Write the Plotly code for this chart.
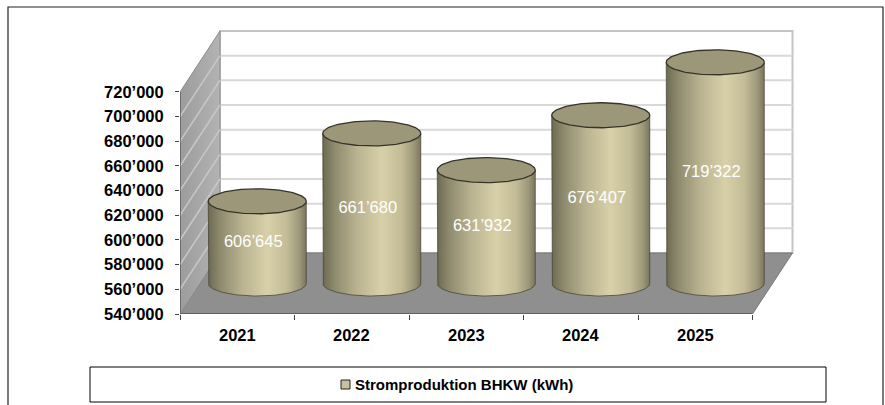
import numpy as np
import plotly.graph_objects as go

# ---------------- data ----------------
categories = ["2021", "2022", "2023", "2024", "2025"]
values = [606645, 661680, 631932, 676407, 719322]
value_labels = ["606’645", "661’680", "631’932", "676’407", "719’322"]
y_ticks = [540000, 560000, 580000, 600000, 620000, 640000, 660000, 680000, 700000, 720000]
y_tick_labels = ["540’000", "560’000", "580’000", "600’000", "620’000",
                 "640’000", "660’000", "680’000", "700’000", "720’000"]
series_name = "Stromproduktion BHKW (kWh)"

# ---------------- geometry / style ----------------
W, H = 885, 405
PL, PR, PT, PB = 180, 797, 28, 314          # plot area in pixels
CAT_PX = 114.5                               # pixels per category
VAL_PX = 24.67 / 20000                       # pixels per value unit
Y0 = y_ticks[0]
YMAX = y_ticks[-1]
x_range = [-0.5, -0.5 + (PR - PL) / CAT_PX]
y_range = [Y0, Y0 + (PB - PT) / VAL_PX]
DX = 40 / CAT_PX                             # 3-D depth offset (x)
DY = 61 / VAL_PX                             # 3-D depth offset (y)
RX = 49 / CAT_PX                             # cylinder radius
RY = 12.5 / VAL_PX                           # ellipse half height
NCAT = len(categories)
FONT = "Liberation Sans"

def xp(px):
    return (px - PL) / (PR - PL)

def yp(py):
    return (PB - py) / (PB - PT)

fig = go.Figure()

# back wall
bx0, bx1 = -0.5 + DX, NCAT - 0.5 + DX
fig.add_trace(go.Scatter(x=[bx0, bx1, bx1, bx0, bx0],
                         y=[Y0 + DY, Y0 + DY, YMAX + DY, YMAX + DY, Y0 + DY],
                         mode="lines", fill="toself", fillcolor="white",
                         line=dict(color="#c4c4c4", width=2), hoverinfo="skip"))
# back wall gridlines
gx, gy = [], []
for v in y_ticks[1:-1]:
    gx += [bx0, bx1, None]
    gy += [v + DY, v + DY, None]
fig.add_trace(go.Scatter(x=gx, y=gy, mode="lines",
                         line=dict(color="#d9d9d9", width=2), hoverinfo="skip"))

# floor
fig.add_trace(go.Scatter(x=[-0.5, NCAT - 0.5, NCAT - 0.5 + DX, -0.5 + DX, -0.5],
                         y=[Y0, Y0, Y0 + DY, Y0 + DY, Y0],
                         mode="lines", fill="toself", fillcolor="#8f8f8f",
                         line=dict(color="#7a7a7a", width=1), hoverinfo="skip"))
# side wall
fig.add_trace(go.Scatter(x=[-0.5, -0.5, -0.5 + DX, -0.5 + DX, -0.5],
                         y=[Y0, YMAX, YMAX + DY, Y0 + DY, Y0],
                         mode="lines", fill="toself",
                         fillgradient=dict(type="horizontal",
                                           colorscale=[[0, "#9c9c9c"], [1, "#b3b3b3"]]),
                         line=dict(color="#8c8c8c", width=1), hoverinfo="skip"))
sx, sy = [], []
for v in y_ticks[1:-1]:
    sx += [-0.5, -0.5 + DX, None]
    sy += [v, v + DY, None]
fig.add_trace(go.Scatter(x=sx, y=sy, mode="lines",
                         line=dict(color="#c8c8c8", width=1.5), hoverinfo="skip"))

# front edge of floor and value axis line
fig.add_trace(go.Scatter(x=[-0.5, NCAT - 0.5], y=[Y0, Y0], mode="lines",
                         line=dict(color="#555555", width=1.5), hoverinfo="skip"))
fig.add_trace(go.Scatter(x=[-0.5, -0.5], y=[Y0, YMAX], mode="lines",
                         line=dict(color="#555555", width=1.2), hoverinfo="skip"))

# cylinders
body_scale = [[0, "#6c6a52"], [0.12, "#8e8a6d"], [0.35, "#bab391"], [0.6, "#d8d0a8"],
              [0.8, "#c3bc97"], [0.93, "#9d987a"], [1, "#7a765d"]]
t_half = np.linspace(np.pi, 2 * np.pi, 60)
t_full = np.linspace(0, 2 * np.pi, 120)
for i, v in enumerate(values):
    cx = i + DX / 2
    yb = Y0 + DY / 2
    yt = v + DY / 2
    bxs = list(cx + RX * np.cos(t_half))
    bys = list(yb + RY * np.sin(t_half))
    xs = [cx - RX] + bxs + [cx + RX, cx - RX]
    ys = [yt] + bys + [yt, yt]
    fig.add_trace(go.Scatter(x=xs, y=ys, mode="lines", fill="toself",
                             fillgradient=dict(type="horizontal", colorscale=body_scale),
                             line=dict(color="rgba(70,66,50,0.75)", width=1),
                             hoverinfo="skip"))
    fig.add_trace(go.Scatter(x=cx + RX * np.cos(t_full), y=yt + RY * np.sin(t_full),
                             mode="lines", fill="toself", fillcolor="#9c9779",
                             line=dict(color="#36342a", width=1.3), hoverinfo="skip"))

# data labels
fig.add_trace(go.Scatter(
    x=[i + DX / 2 - 4 / CAT_PX for i in range(NCAT)],
    y=[(Y0 + v) / 2 + DY / 2 for v in values],
    mode="text", text=value_labels,
    textfont=dict(family=FONT, size=16.5, color="white"),
    hoverinfo="skip"))

# category labels
annotations = []
for i, c in enumerate(categories):
    annotations.append(dict(x=i, y=Y0, xref="x", yref="y", text="<b>%s</b>" % c,
                            showarrow=False, yanchor="top", yshift=-10,
                            font=dict(family=FONT, size=16.5, color="black")))
# legend text
annotations.append(dict(x=xp(353), y=yp(384.5), xref="paper", yref="paper",
                        text="<b>%s</b>" % series_name, showarrow=False,
                        xanchor="left", yanchor="middle",
                        font=dict(family=FONT, size=15, color="black")))

shapes = [
    # outer border
    dict(type="rect", xref="paper", yref="paper", x0=xp(8), x1=xp(883),
         y0=yp(412), y1=yp(7), line=dict(color="#222222", width=1.2)),
    # legend box
    dict(type="rect", xref="paper", yref="paper", x0=xp(90), x1=xp(826),
         y0=yp(402), y1=yp(367), line=dict(color="black", width=1)),
    # legend key
    dict(type="rect", xref="paper", yref="paper", x0=xp(341), x1=xp(350),
         y0=yp(389), y1=yp(380), fillcolor="#c9c19b",
         line=dict(color="#222222", width=1)),
]

fig.update_layout(
    width=W, height=H, autosize=False,
    margin=dict(l=PL, r=W - PR, t=PT, b=H - PB, pad=0),
    paper_bgcolor="white", plot_bgcolor="rgba(0,0,0,0)",
    showlegend=False,
    annotations=annotations, shapes=shapes,
    xaxis=dict(range=x_range, showgrid=False, zeroline=False, showline=False,
               tickmode="array", tickvals=[k - 0.5 for k in range(NCAT + 1)],
               ticks="outside", ticklen=5, tickcolor="#444444", tickwidth=1,
               showticklabels=False, fixedrange=True),
    yaxis=dict(range=y_range, showgrid=False, zeroline=False, showline=False,
               tickmode="array", tickvals=y_ticks, ticktext=y_tick_labels,
               ticks="outside", ticklen=4, tickcolor="#444444", tickwidth=1,
               ticklabelstandoff=8,
               tickfont=dict(family=FONT, size=16.5, color="black", weight="bold"),
               fixedrange=True),
)

fig.write_html("out.html", config={"displayModeBar": False},
               post_script="document.body.style.margin='0px';")
